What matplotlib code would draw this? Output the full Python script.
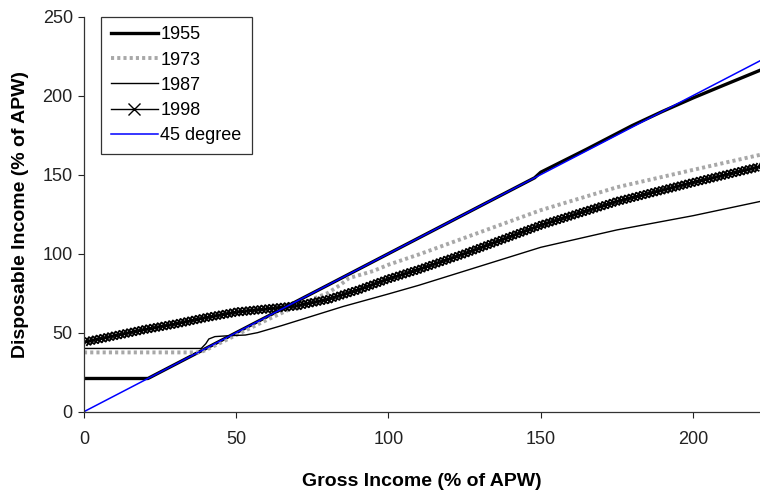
import matplotlib
matplotlib.use("Agg")
import matplotlib.pyplot as plt
import matplotlib.patheffects as pe
from matplotlib.lines import Line2D

plt.rcParams['font.family'] = ['Liberation Sans', 'DejaVu Sans']

# values (gross income -> disposable income, % of APW)
gross_1955 = [0, 21, 148, 150, 165, 180, 190, 200, 210, 222]
disp_1955 = [21, 21, 148, 151.5, 166, 181, 190, 198.5, 206.5, 216]

gross_1973 = [0, 38, 40, 50, 60, 70, 76, 80, 84, 87, 95, 100, 110, 125, 150, 175, 200, 222]
disp_1973 = [37.5, 37.5, 39, 48.5, 58, 67, 72, 75, 80, 84.5, 89, 93, 99.5, 110, 127.5, 142, 153, 162.5]

gross_1987 = [0, 38.5, 40, 41, 43, 47, 53, 57, 65, 75, 85, 100, 110, 125, 150, 175, 200, 222]
disp_1987 = [40, 40, 43, 46, 47.5, 48, 48.5, 50, 54.5, 60.5, 66.5, 74.5, 80, 89, 104, 115, 124, 133]

gross_1998 = [0, 10, 20, 30, 40, 50, 60, 70, 80, 90, 100, 110, 125, 150, 175, 200, 222]
disp_1998 = [44, 48, 52, 55.5, 59.5, 63, 65, 67, 71, 77, 84, 90, 100, 118, 133, 145, 155]

gross_45 = [0, 222]
disp_45 = [0, 222]

labels = ['1955', '1973', '1987', '1998', '45 degree']

fig = plt.figure(figsize=(7.6, 4.96), dpi=100)
ax = fig.add_axes([0.1105, 0.170, 0.8895, 0.7966])

gray = '#a8a8a8'
ax.plot(gross_1955, disp_1955, color='black', lw=2.4)
ax.plot(gross_1973, disp_1973, color=gray, lw=2.8, dashes=(0.8, 0.8))
ax.plot(gross_1987, disp_1987, color='black', lw=1.0)

# dense "x" markers along the 1998 line, done with ticked strokes
cross = [pe.TickedStroke(spacing=2.8, angle=a, length=1.3, linewidth=1.3)
         for a in (45, 225, 135, -45)]
ax.plot(gross_1998, disp_1998, color='black', lw=1.2,
        path_effects=[pe.Normal()] + cross)

ax.plot(gross_45, disp_45, color='#0000ff', lw=1.1)

ax.set_xlim(0, 222)
ax.set_ylim(0, 250)
ax.set_xticks([0, 50, 100, 150, 200])
ax.set_yticks([0, 50, 100, 150, 200, 250])

for s in ['top', 'right']:
    ax.spines[s].set_visible(False)
for s in ['left', 'bottom']:
    ax.spines[s].set_color('#333333')
    ax.spines[s].set_linewidth(0.9)

ax.tick_params(direction='out', length=4, width=0.8, labelsize=13, colors='#222222')
ax.tick_params(axis='x', pad=10)
ax.tick_params(axis='y', pad=4)

ax.set_xlabel('Gross Income (% of APW)', fontsize=14, fontweight='bold', labelpad=18)
ax.set_ylabel('Disposable Income (% of APW)', fontsize=14, fontweight='bold', labelpad=10)

handles = [
    Line2D([], [], color='black', lw=2.4),
    Line2D([], [], color=gray, lw=2.8, dashes=(0.8, 0.8)),
    Line2D([], [], color='black', lw=1.0),
    Line2D([], [], color='black', lw=1.0, marker='x', markersize=8, markeredgewidth=1.0),
    Line2D([], [], color='#0000ff', lw=1.1),
]
leg = ax.legend(handles, labels, loc='upper left', bbox_to_anchor=(0.025, 1.0),
                borderaxespad=0, fontsize=13, frameon=True, fancybox=False,
                handlelength=2.6, handletextpad=0.15, labelspacing=0.45,
                borderpad=0.55, numpoints=1)
leg.get_frame().set_edgecolor('black')
leg.get_frame().set_linewidth(0.9)

fig.savefig('out.png', dpi=100)
